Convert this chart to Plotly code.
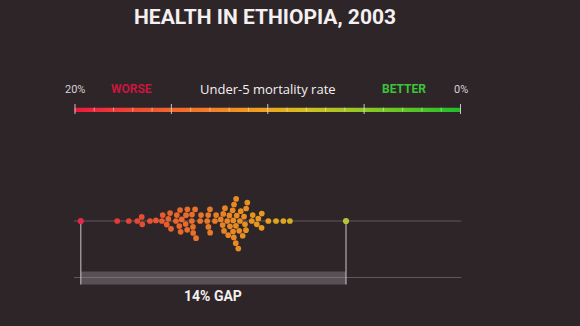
import math
import numpy as np
import plotly.graph_objects as go

# Under-5 mortality rate (%) by area, Ethiopia 2003
rates = [
    19.70, 17.81, 17.21, 16.77, 16.54, 16.51, 16.11, 15.80, 15.49, 15.45,
    15.24, 15.16, 15.07, 15.02, 14.76, 14.72, 14.59, 14.55, 14.52, 14.46,
    14.26, 14.24, 14.18, 14.17, 13.94, 13.93, 13.88, 13.87, 13.77, 13.72,
    13.51, 13.46, 13.14, 13.09, 13.08, 13.00, 12.99, 12.74, 12.68, 12.44,
    12.34, 12.31, 12.27, 12.22, 12.10, 12.05, 11.99, 11.96, 11.82, 11.80,
    11.79, 11.76, 11.75, 11.66, 11.65, 11.64, 11.61, 11.53, 11.48, 11.44,
    11.40, 11.30, 11.23, 11.18, 11.13, 11.12, 11.06, 10.83, 10.78, 10.57,
    10.49, 10.32, 10.31, 9.97, 9.57, 9.19, 8.85, 5.94,
]
scale_ticks = list(range(0, 21))
major_ticks = [0, 5, 10, 15, 20]
scale_labels = {20: "20%", 0: "0%"}

W, H = 580, 326
BG = "#2e2529"
PX_PER_UNIT = 19.275          # pixels per 1 percentage point
X_AT_ZERO = 460.5             # pixel of the 0% end of the scale
BASE_PX = 221                 # swarm baseline (pixels from top)

x_range = [X_AT_ZERO / PX_PER_UNIT, (X_AT_ZERO - W) / PX_PER_UNIT]
y_range = [-(H - BASE_PX) / PX_PER_UNIT, BASE_PX / PX_PER_UNIT]


def py(px):
    """pixel row -> paper y"""
    return 1 - px / H


colorscale = [
    [0.00, "#1fbf2a"],
    [0.25, "#8fc823"],
    [0.40, "#d2bf22"],
    [0.50, "#f0a41f"],
    [0.75, "#f2662c"],
    [1.00, "#ea183f"],
]


def swarm(vals, d):
    """Place dots along a baseline so that none overlap (dodge layout)."""
    ys = np.zeros(len(vals))
    placed = []
    for i in np.argsort(-vals):
        x = vals[i]
        near = [(xj, yj) for xj, yj in placed if abs(xj - x) < d]
        cands = [0.0]
        for xj, yj in near:
            dy = math.sqrt(d * d - (xj - x) ** 2)
            cands += [yj + dy, yj - dy]
        cands.sort(key=lambda c: (abs(c), -c))
        for c in cands:
            if all((xj - x) ** 2 + (yj - c) ** 2 >= d * d - 1e-9 for xj, yj in near):
                ys[i] = c
                break
        placed.append((x, ys[i]))
    return ys


vals = np.array(rates)
offsets = swarm(vals, 6.0 / PX_PER_UNIT)
worst, best = vals.max(), vals.min()
gap = worst - best

fig = go.Figure()

# gradient scale bar
grad_x = np.linspace(20, 0, 400)
fig.add_trace(go.Heatmap(
    x=grad_x, y=[0], z=[grad_x], colorscale=colorscale, zmin=0, zmax=20,
    showscale=False, hoverinfo="skip", yaxis="y2",
))

# swarm of areas
mid = (vals > best) & (vals < worst)
fig.add_trace(go.Scatter(
    x=vals[mid], y=offsets[mid], mode="markers",
    marker=dict(size=5.7, color=vals[mid], colorscale=colorscale, cmin=0, cmax=20,
                opacity=0.95, line=dict(width=0)),
    hoverinfo="x", showlegend=False,
))
# extremes
fig.add_trace(go.Scatter(
    x=[worst, best], y=[offsets[vals.argmax()], offsets[vals.argmin()]], mode="markers",
    marker=dict(size=6.2, color=["#e2284c", "#b7c23c"], line=dict(width=0)),
    hoverinfo="x", showlegend=False,
))

shapes = []
# scale ticks
for t in scale_ticks:
    if t in major_ticks:
        shapes.append(dict(type="line", xref="x", yref="paper", x0=t, x1=t,
                           y0=py(104), y1=py(114),
                           line=dict(color="rgba(225,220,220,0.85)", width=1)))
    else:
        shapes.append(dict(type="line", xref="x", yref="paper", x0=t, x1=t,
                           y0=py(107.5), y1=py(111.5),
                           line=dict(color="rgba(255,255,255,0.45)", width=1)))
# baseline and lower guide line
for ypx in (BASE_PX, 277.5):
    shapes.append(dict(type="line", xref="x", yref="paper", x0=20.05, x1=-0.05,
                       y0=py(ypx), y1=py(ypx), layer="below",
                       line=dict(color="rgba(140,128,136,0.55)", width=1.2)))
# gap band
shapes.append(dict(type="rect", xref="x", yref="paper", x0=worst, x1=best,
                   y0=py(284.5), y1=py(271.5), layer="below",
                   fillcolor="rgba(150,140,148,0.42)", line=dict(width=0)))
# drop lines from the extremes
for v in (worst, best):
    shapes.append(dict(type="line", xref="x", yref="paper", x0=v, x1=v,
                       y0=py(BASE_PX), y1=py(284.5), layer="below",
                       line=dict(color="rgba(200,192,198,0.8)", width=1.3)))

cond = "Roboto"


def label(text, x, ypx, size, color, family=cond, xref="x"):
    return dict(text=text, xref=xref, yref="paper", x=x, y=py(ypx),
                xanchor="center", yanchor="middle", showarrow=False,
                font=dict(family=family, size=size, color=color))


annotations = [
    label("<b>HEALTH IN ETHIOPIA, 2003</b>", 265 / W, 17, 21, "#f4f0f0", xref="paper"),
    label("Under-5 mortality rate", 10, 88.5, 13, "#f4f0f0", family="Open Sans"),
    label("<b>WORSE</b>", 17.05, 89, 12, "#c8163e"),
    label("<b>BETTER</b>", 2.93, 89, 12, "#3cc43a"),
    label(f"<b>{round(gap)}% GAP</b>", (worst + best) / 2, 295.5, 14, "#f4f0f0"),
]
for t, lab in scale_labels.items():
    annotations.append(label(lab, t, 89, 11, "#d8d0d2"))

fig.update_layout(
    width=W, height=H, margin=dict(l=0, r=0, t=0, b=0),
    paper_bgcolor=BG, plot_bgcolor=BG,
    xaxis=dict(range=x_range, visible=False, fixedrange=True),
    yaxis=dict(range=y_range, visible=False, fixedrange=True),
    yaxis2=dict(domain=[py(112), py(107.5)], range=[-0.5, 0.5], visible=False,
                anchor="x", fixedrange=True),
    shapes=shapes, annotations=annotations, showlegend=False,
)

fig.write_html("out.html", config={"displayModeBar": False})
